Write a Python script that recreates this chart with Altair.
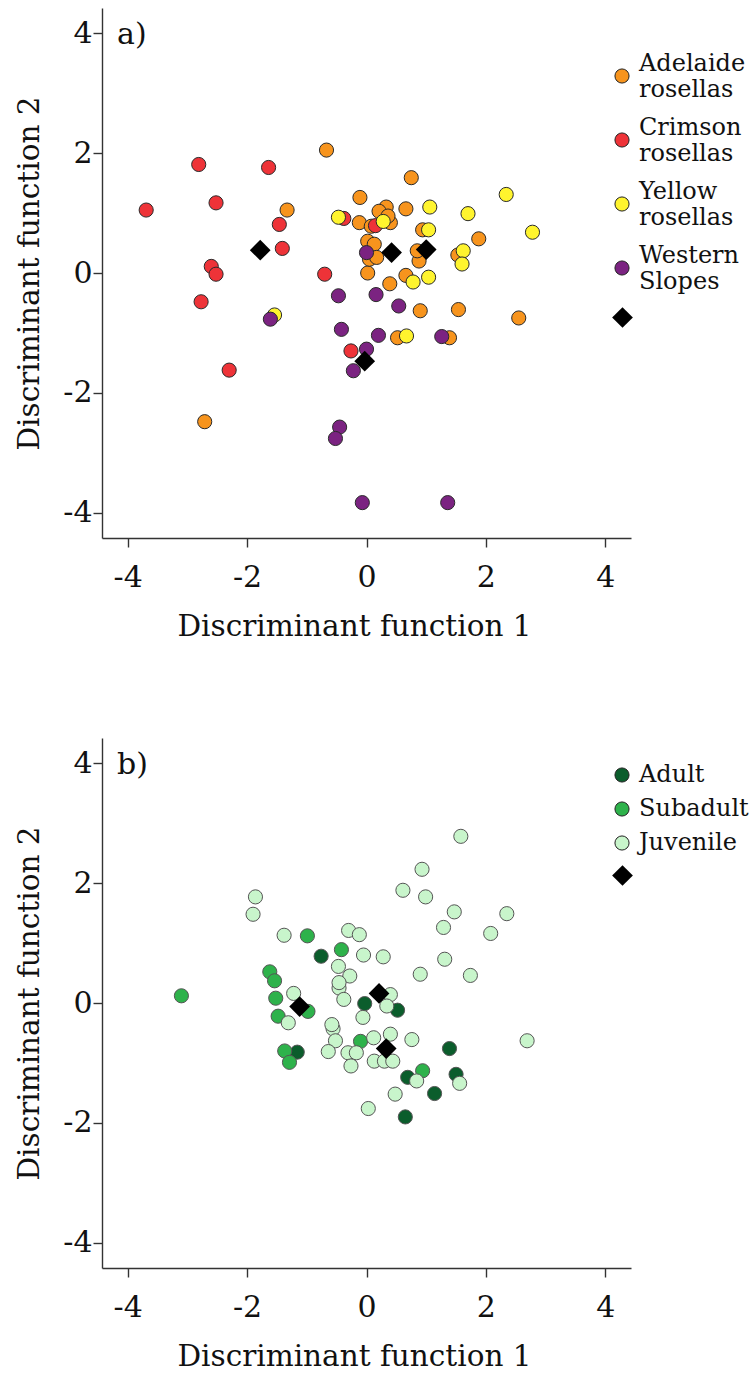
import altair as alt
import pandas as pd

FONT = "DejaVu Serif"

# ---- Panel a): discriminant scores by taxon ----
adelaide_x = [-0.67, -1.33, -0.11, -0.12, -2.71, 2.55, 1.54, 0.90, 0.39, 0.52, 1.39, 0.75, 1.88, 0.66,
              0.94, 1.53, 0.88, 0.66, 0.02, 0.33, 0.21, 0.08, 0.40, 0.36, 0.02, 0.13, 0.05, 0.17, 0.85]
adelaide_y = [2.05, 1.05, 1.26, 0.84, -2.48, -0.75, -0.61, -0.63, -0.18, -1.08, -1.08, 1.59, 0.57, 1.07,
              0.72, 0.30, 0.20, -0.04, 0.00, 1.10, 1.03, 0.78, 0.84, 0.95, 0.53, 0.48, 0.23, 0.26, 0.37]
crimson_x = [-3.69, -2.81, -1.64, -2.52, -1.46, -0.38, -1.41, -2.60, -2.52, -0.70, -2.77, -0.26, -2.30, 0.15]
crimson_y = [1.05, 1.81, 1.76, 1.17, 0.81, 0.91, 0.41, 0.11, -0.02, -0.02, -0.48, -1.30, -1.62, 0.79]
yellow_x = [-0.47, -1.54, 0.67, 2.34, 2.78, 1.70, 1.06, 1.04, 1.62, 1.60, 1.04, 0.78, 0.28]
yellow_y = [0.93, -0.70, -1.05, 1.31, 0.68, 0.99, 1.10, 0.72, 0.37, 0.15, -0.07, -0.15, 0.86]
western_x = [0.00, -1.61, -0.47, -0.42, 0.00, -0.22, -0.45, -0.52, -0.07, 1.36, 0.54, 0.16, 0.20, 1.26]
western_y = [0.34, -0.77, -0.38, -0.94, -1.27, -1.63, -2.57, -2.76, -3.83, -3.83, -0.55, -0.36, -1.04, -1.06]
taxon_centroid_x = [-1.78, 0.42, 1.00, -0.03]
taxon_centroid_y = [0.38, 0.34, 0.39, -1.47]

taxa = ["Adelaide rosellas", "Crimson rosellas", "Yellow rosellas", "Western Slopes"]
taxon_colors = ["#F7941D", "#EE3338", "#FFF42E", "#7B2381"]

# ---- Panel b): discriminant scores by age class ----
adult_x = [-0.76, -1.16, -0.03, 0.52, 1.39, 0.69, 1.14, 0.65, 1.50]
adult_y = [0.78, -0.82, -0.01, -0.12, -0.76, -1.24, -1.51, -1.90, -1.19]
subadult_x = [-0.99, -3.10, -1.62, -1.54, -1.52, -0.98, -1.48, -1.37, -1.29, -0.42, -0.10, 0.94]
subadult_y = [1.12, 0.12, 0.52, 0.37, 0.08, -0.14, -0.22, -0.80, -0.99, 0.89, -0.64, -1.13]
juvenile_x = [-1.86, -1.90, -1.38, -1.22, -1.31, -0.47, -0.46, -0.56, -0.52, -0.64, -0.30, -0.12,
              -0.05, 0.28, -0.28, -0.46, -0.38, 0.40, 0.34, -0.06, 0.90, 1.31, 1.29, 1.47, -0.31,
              -0.17, -0.26, 0.12, 0.40, 0.13, 0.30, 0.44, 0.76, 0.84, 0.48, 0.03, 1.56, 1.58, 0.93,
              0.61, 0.99, 2.35, 2.08, 1.74, 2.69, -0.58]
juvenile_y = [1.77, 1.48, 1.13, 0.16, -0.33, 0.61, 0.25, -0.43, -0.63, -0.81, 1.21, 1.14,
              0.80, 0.77, 0.45, 0.34, 0.06, 0.14, -0.05, -0.24, 0.48, 0.73, 1.26, 1.52, -0.83,
              -0.83, -1.05, -0.58, -0.52, -0.97, -0.97, -0.97, -0.61, -1.30, -1.52, -1.76, -1.34, 2.78, 2.23,
              1.88, 1.77, 1.49, 1.16, 0.46, -0.63, -0.36]
age_centroid_x = [-1.12, 0.21, 0.33]
age_centroid_y = [-0.06, 0.16, -0.76]

ages = ["Adult", "Subadult", "Juvenile"]
age_colors = ["#0B5D2C", "#2EB24B", "#C8F5CB"]

CENTROID = "Group centroid"


def build_points(groups, xs, ys):
    rows = []
    for g, gx, gy in zip(groups, xs, ys):
        rows += [{"df1": a, "df2": b, "group": g} for a, b in zip(gx, gy)]
    return pd.DataFrame(rows)


def build_centroids(cx, cy):
    return pd.DataFrame({"df1": cx, "df2": cy, "kind": [CENTROID] * len(cx)})


X = alt.X("df1:Q", scale=alt.Scale(domain=[-4.43, 4.43], nice=False, zero=False),
          axis=alt.Axis(values=[-4, -2, 0, 2, 4], title="Discriminant function 1",
                        labelPadding=15, titlePadding=20, titleX=252, titleAnchor="middle",
                        labelExpr="'' + datum.value"))
Y = alt.Y("df2:Q", scale=alt.Scale(domain=[-4.42, 4.42], nice=False, zero=False),
          axis=alt.Axis(values=[-4, -2, 0, 2, 4], title="Discriminant function 2",
                        labelPadding=1, titlePadding=18, labelExpr="'' + datum.value"))


def panel(pts_df, cen_df, groups, colors, tag, stroke, legend_y, row_pad, label_baseline,
          centroid_legend_y):
    group_legend = alt.Legend(
        orient="none", legendX=508, legendY=legend_y, title=None, padding=0,
        labelFont=FONT, labelFontSize=24, labelColor="#111", labelOffset=5,
        labelBaseline=label_baseline, rowPadding=row_pad, symbolSize=200,
        symbolType="circle", symbolStrokeColor="#222", symbolStrokeWidth=1,
        labelExpr="split(datum.label, ' ')",
    )
    centroid_legend = alt.Legend(
        orient="none", legendX=510, legendY=centroid_legend_y, title=None, padding=0,
        labelExpr="''", symbolSize=430, symbolFillColor="#000000",
        symbolStrokeColor="#000000", symbolStrokeWidth=0,
    )
    pts = alt.Chart(pts_df).mark_point(
        filled=True, opacity=1, stroke=stroke, strokeWidth=1, size=200
    ).encode(
        x=X, y=Y,
        color=alt.Color("group:N", scale=alt.Scale(domain=groups, range=colors),
                        legend=group_legend),
    )
    cen = alt.Chart(cen_df).mark_point(
        filled=True, opacity=1, color="#000000", size=430
    ).encode(
        x=X, y=Y,
        shape=alt.Shape("kind:N", scale=alt.Scale(domain=[CENTROID], range=["diamond"]),
                        legend=centroid_legend),
    )
    label = alt.Chart(pd.DataFrame({"t": [tag]})).mark_text(
        align="left", baseline="alphabetic", font=FONT, fontSize=30, color="#111"
    ).encode(x=alt.value(15), y=alt.value(36), text="t:N")
    return alt.layer(pts, cen, label).properties(width=529, height=530)


top = panel(build_points(taxa, [adelaide_x, crimson_x, yellow_x, western_x],
                         [adelaide_y, crimson_y, yellow_y, western_y]),
            build_centroids(taxon_centroid_x, taxon_centroid_y),
            taxa, taxon_colors, "a)", "#2a2a2a", 56, 14, "bottom", 299)
bottom = panel(build_points(ages, [adult_x, subadult_x, juvenile_x],
                            [adult_y, subadult_y, juvenile_y]),
               build_centroids(age_centroid_x, age_centroid_y),
               ages, age_colors, "b)", "#555555", 25, 10, "middle", 127)

chart = alt.vconcat(top, bottom, spacing=97).resolve_scale(
    color="independent", shape="independent"
).resolve_legend(
    color="independent", shape="independent"
).properties(
    padding={"left": 14, "top": 8, "right": 0, "bottom": 0}
).configure_view(stroke=None).configure_axis(
    grid=False, domainColor="#333", domainWidth=1.4, tickColor="#333", tickWidth=1.4,
    tickSize=9, labelFont=FONT, labelFontSize=30, labelColor="#111",
    titleFont=FONT, titleFontSize=29.5, titleFontWeight="normal", titleColor="#111",
)

chart.save("out.html", embed_options={"renderer": "svg", "actions": False})
